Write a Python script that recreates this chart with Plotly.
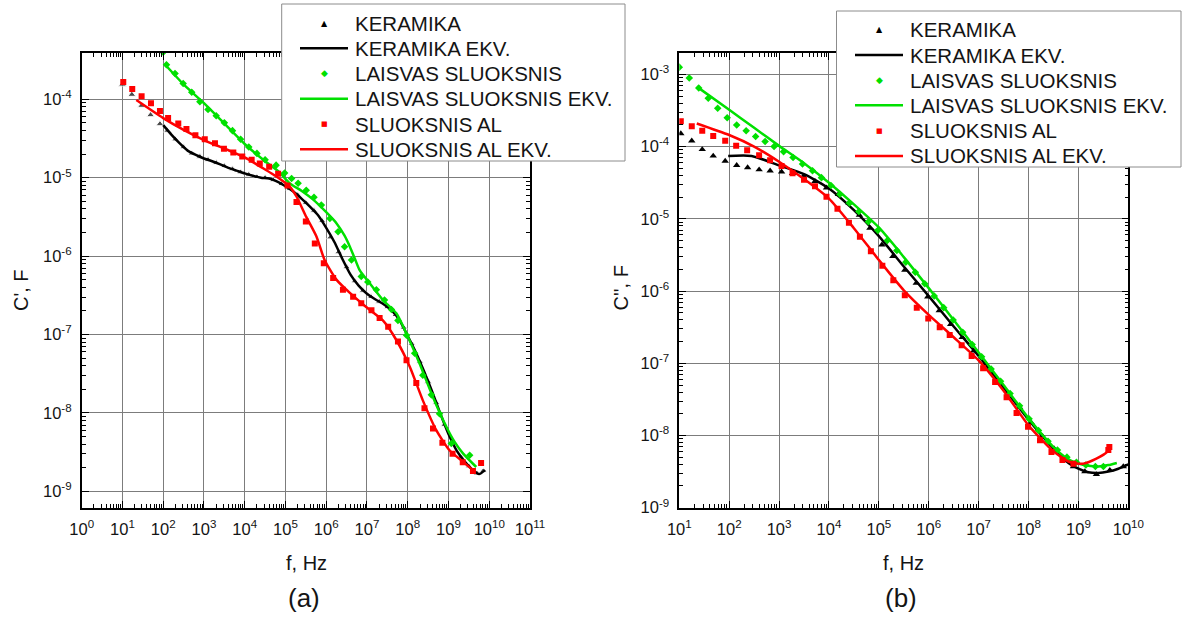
import numpy as np
import plotly.graph_objects as go

W, H = 1182, 617

# ---------------------------------------------------------------------------
# Data: values stored as decades, log10(f / Hz) and log10(C / F)
# ---------------------------------------------------------------------------
# (a) real part C'
a_ker_pts_lf = [1.0, 1.23, 1.47, 1.69, 1.92, 2.1, 2.3, 2.5, 2.7, 2.9, 3.1, 3.3, 3.5,
                3.7, 3.9, 4.1, 4.3, 4.5, 4.7, 4.9, 5.1, 5.3, 5.5, 5.7, 5.9, 6.1, 6.3,
                6.5, 6.7, 6.9, 7.1, 7.3, 7.5, 7.7, 7.9, 8.1, 8.3, 8.5, 8.7, 8.9, 9.1,
                9.3, 9.5, 9.7, 9.85]
a_ker_pts_lc = [-3.81, -3.94, -4.08, -4.20, -4.315, -4.40, -4.51, -4.61, -4.69, -4.73,
                -4.77, -4.81, -4.85, -4.89, -4.93, -4.96, -4.99, -5.00, -5.03, -5.08,
                -5.14, -5.22, -5.32, -5.42, -5.55, -5.76, -5.95, -6.14, -6.32, -6.44,
                -6.52, -6.58, -6.65, -6.75, -6.91, -7.12, -7.35, -7.60, -7.87, -8.15,
                -8.38, -8.56, -8.68, -8.77, -8.74]
a_ker_fit_lf = [2.0, 2.2, 2.4, 2.6, 2.8, 3.0, 3.2, 3.4, 3.6, 3.8, 4.0, 4.2, 4.4, 4.6,
                4.8, 5.0, 5.2, 5.4, 5.6, 5.8, 6.0, 6.2, 6.4, 6.6, 6.8, 7.0, 7.2, 7.4,
                7.6, 7.8, 8.0, 8.2, 8.4, 8.6, 8.8, 9.0, 9.2, 9.4, 9.6, 9.75, 9.9]
a_ker_fit_lc = [-4.33, -4.45, -4.56, -4.655, -4.71, -4.755, -4.79, -4.83, -4.875, -4.91,
                -4.945, -4.975, -5.00, -5.01, -5.05, -5.11, -5.18, -5.27, -5.37, -5.48,
                -5.64, -5.82, -6.04, -6.24, -6.38, -6.48, -6.55, -6.61, -6.69, -6.82,
                -7.02, -7.23, -7.47, -7.73, -8.01, -8.27, -8.48, -8.62, -8.73, -8.78,
                -8.73]

a_lai_pts_lf = [2.0, 2.08, 2.29, 2.49, 2.70, 2.90, 3.10, 3.30, 3.50, 3.70, 3.90, 4.10,
                4.30, 4.50, 4.77, 4.98, 5.15, 5.31, 5.51, 5.70, 5.88, 6.09, 6.29, 6.45,
                6.62, 6.86, 7.02, 7.23, 7.43, 7.60, 7.76, 7.97, 8.17, 8.37, 8.58, 8.78,
                9.07, 9.52]
a_lai_pts_lc = [-3.40, -3.56, -3.67, -3.80, -3.91, -4.03, -4.13, -4.21, -4.30, -4.40,
                -4.51, -4.61, -4.69, -4.77, -4.84, -4.94, -5.01, -5.07, -5.16, -5.25,
                -5.35, -5.52, -5.69, -5.88, -6.05, -6.26, -6.33, -6.43, -6.56, -6.68,
                -6.82, -7.01, -7.24, -7.52, -7.77, -8.01, -8.39, -8.54]
a_lai_fit_lf = [2.05, 2.5, 3.0, 3.5, 4.0, 4.5, 4.85, 5.10, 5.40, 5.68, 6.0, 6.25, 6.45,
                6.58, 6.70, 6.82, 7.07, 7.39, 7.72, 7.97, 8.29, 8.62, 8.95, 9.15, 9.36,
                9.68]
a_lai_fit_lc = [-3.56, -3.81, -4.05, -4.31, -4.57, -4.79, -4.93, -5.07, -5.17, -5.28,
                -5.44, -5.58, -5.74, -5.88, -6.03, -6.18, -6.35, -6.56, -6.73, -6.99,
                -7.37, -7.80, -8.18, -8.37, -8.52, -8.69]

a_al_pts_lf = [1.02, 1.24, 1.47, 1.70, 1.92, 2.12, 2.37, 2.57, 2.79, 3.02, 3.27, 3.49,
               3.72, 3.94, 4.17, 4.37, 4.60, 4.82, 5.05, 5.27, 5.50, 5.72, 5.94, 6.17,
               6.41, 6.66, 6.86, 7.11, 7.31, 7.52, 7.76, 7.97, 8.21, 8.41, 8.62, 8.85,
               9.10, 9.35, 9.60, 9.80]
a_al_pts_lc = [-3.78, -3.87, -3.96, -4.05, -4.15, -4.24, -4.31, -4.38, -4.46, -4.51,
               -4.56, -4.63, -4.68, -4.73, -4.77, -4.82, -4.86, -4.95, -5.10, -5.31,
               -5.56, -5.84, -6.09, -6.28, -6.43, -6.52, -6.60, -6.69, -6.79, -6.90,
               -7.09, -7.33, -7.62, -7.94, -8.20, -8.38, -8.52, -8.63, -8.74, -8.64]
a_al_fit_lf = [1.34, 2.0, 2.5, 3.0, 3.6, 4.0, 4.45, 4.7, 4.9, 5.1, 5.27, 5.51, 5.76,
               5.96, 6.25, 6.58, 6.98, 7.39, 7.72, 8.05, 8.37, 8.70, 9.03, 9.35, 9.60]
a_al_fit_lc = [-4.01, -4.24, -4.39, -4.52, -4.65, -4.74, -4.88, -4.96, -5.03, -5.11,
               -5.24, -5.50, -5.75, -6.05, -6.30, -6.47, -6.65, -6.82, -7.07, -7.41,
               -7.84, -8.22, -8.48, -8.62, -8.73]

# (b) imaginary part C''
b_ker_pts_lf = [1.03, 1.25, 1.46, 1.68, 1.92, 2.15, 2.37, 2.60, 2.82, 3.05, 3.27, 3.49,
                3.72, 3.95, 4.19, 4.40, 4.61, 4.82, 5.06, 5.28, 5.52, 5.75, 5.98, 6.21,
                6.44, 6.67, 6.90, 7.13, 7.36, 7.59, 7.82, 8.05, 8.28, 8.51, 8.74, 8.90,
                9.13, 9.36, 9.63, 9.90]
b_ker_pts_lc = [-3.82, -3.92, -4.04, -4.13, -4.20, -4.26, -4.29, -4.32, -4.335, -4.35,
                -4.37, -4.41, -4.48, -4.57, -4.66, -4.78, -4.95, -5.13, -5.36, -5.52,
                -5.71, -5.89, -6.08, -6.27, -6.46, -6.64, -6.83, -7.01, -7.21, -7.41,
                -7.61, -7.82, -8.01, -8.18, -8.34, -8.43, -8.50, -8.54, -8.48, -8.43]
b_ker_fit_lf = [1.98, 2.45, 3.0, 3.5, 4.0, 4.5, 5.0, 5.5, 6.0, 6.5, 7.0, 7.5, 8.0, 8.5,
                8.8, 9.0, 9.2, 9.4, 9.6, 9.8, 10.0]
b_ker_fit_lc = [-4.13, -4.13, -4.26, -4.38, -4.58, -4.88, -5.24, -5.66, -6.07, -6.49,
                -6.90, -7.34, -7.78, -8.18, -8.38, -8.46, -8.51, -8.52, -8.50, -8.46,
                -8.40]

b_lai_pts_lf = [1.0, 1.20, 1.39, 1.58, 1.77, 1.96, 2.15, 2.34, 2.53, 2.72, 2.90, 3.09,
                3.28, 3.47, 3.67, 3.85, 4.04, 4.22, 4.41, 4.60, 4.79, 4.98, 5.17, 5.36,
                5.54, 5.73, 5.92, 6.11, 6.30, 6.49, 6.68, 6.87, 7.06, 7.25, 7.44, 7.63,
                7.82, 8.01, 8.20, 8.39, 8.58, 8.77, 8.96, 9.15, 9.34, 9.50]
b_lai_pts_lc = [-2.90, -3.05, -3.19, -3.33, -3.47, -3.60, -3.70, -3.78, -3.86, -3.93,
                -4.00, -4.07, -4.15, -4.24, -4.335, -4.43, -4.54, -4.66, -4.78, -4.90,
                -5.04, -5.16, -5.30, -5.44, -5.60, -5.74, -5.90, -6.07, -6.23, -6.40,
                -6.57, -6.74, -6.91, -7.08, -7.25, -7.42, -7.59, -7.77, -7.93, -8.08,
                -8.20, -8.30, -8.37, -8.41, -8.43, -8.43]
b_lai_fit_lf = [1.35, 2.0, 2.5, 3.0, 3.5, 4.0, 4.5, 5.0, 5.5, 6.0, 6.5, 7.0, 7.5, 8.0,
                8.5, 8.8, 9.0, 9.2, 9.4, 9.6, 9.77]
b_lai_fit_lc = [-3.17, -3.49, -3.74, -3.99, -4.23, -4.50, -4.80, -5.12, -5.53, -5.96,
                -6.40, -6.85, -7.30, -7.76, -8.16, -8.33, -8.39, -8.42, -8.43, -8.41,
                -8.38]

b_al_pts_lf = [1.03, 1.25, 1.46, 1.68, 1.92, 2.14, 2.36, 2.60, 2.82, 3.05, 3.27, 3.50,
               3.72, 3.95, 4.17, 4.40, 4.62, 4.84, 5.07, 5.29, 5.52, 5.76, 5.99, 6.22,
               6.42, 6.66, 6.86, 7.09, 7.33, 7.56, 7.76, 7.99, 8.23, 8.46, 8.68, 8.90,
               9.60, 9.62]
b_al_pts_lc = [-3.65, -3.72, -3.78, -3.855, -3.92, -3.99, -4.05, -4.12, -4.19, -4.27,
               -4.37, -4.46, -4.55, -4.695, -4.86, -5.055, -5.25, -5.45, -5.65, -5.85,
               -6.06, -6.23, -6.38, -6.50, -6.61, -6.75, -6.90, -7.07, -7.26, -7.47,
               -7.69, -7.88, -8.065, -8.23, -8.34, -8.39, -8.20, -8.16]
b_al_fit_lf = [1.35, 2.0, 2.5, 3.0, 3.5, 4.0, 4.5, 5.0, 5.5, 6.0, 6.5, 7.0, 7.5, 8.0,
               8.5, 8.8, 9.0, 9.1, 9.36, 9.57, 9.62]
b_al_fit_lc = [-3.68, -3.84, -4.00, -4.21, -4.45, -4.72, -5.13, -5.57, -5.99, -6.33,
               -6.64, -6.96, -7.38, -7.86, -8.22, -8.36, -8.39, -8.39, -8.32, -8.23,
               -8.16]

series_names = ["KERAMIKA", "KERAMIKA EKV.", "LAISVAS SLUOKSNIS",
                "LAISVAS SLUOKSNIS EKV.", "SLUOKSNIS AL", "SLUOKSNIS AL EKV."]
x_decades_a = list(range(0, 12))
x_decades_b = list(range(1, 11))
y_decades_a = list(range(-9, -3))
y_decades_b = list(range(-9, -2))

# ---------------------------------------------------------------------------
BLACK, GREEN, RED = "#000000", "#00e000", "#ff0000"
FONT = "Liberation Sans, Arial, sans-serif"
TXT = "#141414"


def pw(v):
    return 10 ** np.asarray(v, dtype=float)


def fx(px):
    return px / W


def fy(py):
    return 1 - py / H


fig = go.Figure()


def add_panel(xa, ya, ker, lai, al, ker_sizes):
    (kpf, kpc, klf, klc) = ker
    (gpf, gpc, glf, glc) = lai
    (rpf, rpc, rlf, rlc) = al
    common = dict(xaxis=xa, yaxis=ya, showlegend=False)
    fig.add_trace(go.Scatter(x=pw(kpf), y=pw(kpc), mode="markers", name=series_names[0],
                             marker=dict(symbol="triangle-up", size=ker_sizes, color=BLACK),
                             **common))
    fig.add_trace(go.Scatter(x=pw(klf), y=pw(klc), mode="lines", name=series_names[1],
                             line=dict(color=BLACK, width=2.5, shape="spline", smoothing=0.6),
                             **common))
    fig.add_trace(go.Scatter(x=pw(gpf), y=pw(gpc), mode="markers", name=series_names[2],
                             marker=dict(symbol="diamond", size=5.8, color=GREEN), **common))
    fig.add_trace(go.Scatter(x=pw(glf), y=pw(glc), mode="lines", name=series_names[3],
                             line=dict(color=GREEN, width=2.5, shape="spline", smoothing=0.6),
                             **common))
    fig.add_trace(go.Scatter(x=pw(rpf), y=pw(rpc), mode="markers", name=series_names[4],
                             marker=dict(symbol="square", size=6, color=RED), **common))
    fig.add_trace(go.Scatter(x=pw(rlf), y=pw(rlc), mode="lines", name=series_names[5],
                             line=dict(color=RED, width=2.5, shape="spline", smoothing=0.6),
                             **common))


ker_sizes_a = [7] * 5 + [6.5] * (len(a_ker_pts_lf) - 5)
add_panel("x", "y",
          (a_ker_pts_lf, a_ker_pts_lc, a_ker_fit_lf, a_ker_fit_lc),
          (a_lai_pts_lf, a_lai_pts_lc, a_lai_fit_lf, a_lai_fit_lc),
          (a_al_pts_lf, a_al_pts_lc, a_al_fit_lf, a_al_fit_lc),
          ker_sizes_a)
add_panel("x2", "y2",
          (b_ker_pts_lf, b_ker_pts_lc, b_ker_fit_lf, b_ker_fit_lc),
          (b_lai_pts_lf, b_lai_pts_lc, b_lai_fit_lf, b_lai_fit_lc),
          (b_al_pts_lf, b_al_pts_lc, b_al_fit_lf, b_al_fit_lc),
          6.5)


def minor_vals(decades):
    vals = []
    for d in decades[:-1]:
        for m in range(2, 10):
            vals.append(m * 10.0 ** d)
    return vals


def log_axis(domain, rng, decades, anchor, xdir):
    return dict(
        type="log", domain=domain, range=rng, anchor=anchor,
        showline=True, linecolor="black", linewidth=1.6, mirror="ticks",
        ticks="inside", ticklen=7, tickwidth=1, tickcolor="black",
        tickmode="array", tickvals=[10.0 ** d for d in decades],
        ticktext=["10<sup>%d</sup>" % d for d in decades],
        tickfont=dict(family=FONT, size=16.5, color=TXT),
        ticklabelstandoff=6 if xdir else 5,
        showgrid=True, gridcolor="#7c7c7c", gridwidth=1,
        zeroline=False, automargin=False,
        minor=dict(ticks="inside", ticklen=4, tickwidth=1, tickcolor="black",
                   tickmode="array", tickvals=minor_vals(decades), showgrid=False),
    )


dom_y = [fy(507.7), fy(52.7)]
fig.update_layout(
    xaxis=log_axis([fx(81.7), fx(530)], [0, 11], x_decades_a, "y", True),
    yaxis=log_axis(dom_y, [-9.209, -3.406], y_decades_a, "x", False),
    xaxis2=log_axis([fx(679.3), fx(1128.3)], [1, 10], x_decades_b, "y2", True),
    yaxis2=log_axis(dom_y, [-9.0, -2.70], y_decades_b, "x2", False),
)

annotations = []
shapes = []

# axis titles and panel captions
for cx, ty, label, cap in [(306, 21, "C', F", "(a)"), (903, 620, "C'', F", "(b)")]:
    annotations.append(dict(x=fx(cx), y=fy(563), xref="paper", yref="paper", text="f, Hz",
                            showarrow=False, xanchor="center", yanchor="middle",
                            font=dict(family=FONT, size=20, color=TXT)))
    annotations.append(dict(x=fx(ty), y=fy(313), xref="paper", yref="paper", text=label,
                            showarrow=False, textangle=-90, xanchor="center",
                            yanchor="bottom", font=dict(family=FONT, size=20, color=TXT)))
    annotations.append(dict(x=fx(cx - 2), y=fy(597.5), xref="paper", yref="paper", text=cap,
                            showarrow=False, xanchor="center", yanchor="middle",
                            font=dict(family=FONT, size=26, color=TXT)))

# legend boxes drawn over the plot areas
legends = [
    dict(box=(281.7, 4, 625, 161), rows=[23.3, 48.3, 73.3, 98.7, 124, 149.3],
         sym=(300, 348), txt=353),
    dict(box=(836.5, 11, 1181, 167), rows=[29.3, 55, 80, 105.3, 130.7, 156],
         sym=(855, 903), txt=908),
]
glyphs = [("▲", BLACK, 8), None, ("◆", GREEN, 9), None, ("■", RED, 7), None]
line_cols = [None, BLACK, None, GREEN, None, RED]
for lg in legends:
    x0, y0, x1, y1 = lg["box"]
    shapes.append(dict(type="rect", xref="paper", yref="paper", layer="above",
                       x0=fx(x0), x1=fx(x1), y0=fy(y1), y1=fy(y0),
                       fillcolor="white", line=dict(color="#8c8c8c", width=1)))
    s0, s1 = lg["sym"]
    for i, ry in enumerate(lg["rows"]):
        if line_cols[i]:
            shapes.append(dict(type="line", xref="paper", yref="paper", layer="above",
                               x0=fx(s0), x1=fx(s1), y0=fy(ry), y1=fy(ry),
                               line=dict(color=line_cols[i], width=2.6)))
        else:
            g, col, sz = glyphs[i]
            annotations.append(dict(x=fx((s0 + s1) / 2), y=fy(ry), xref="paper",
                                    yref="paper", text=g, showarrow=False,
                                    xanchor="center", yanchor="middle",
                                    font=dict(family="DejaVu Sans", size=sz, color=col)))
        annotations.append(dict(x=fx(lg["txt"]), y=fy(ry), xref="paper", yref="paper",
                                text=series_names[i], showarrow=False, xanchor="left",
                                yanchor="middle",
                                font=dict(family=FONT, size=20.5, color=TXT)))

fig.update_layout(
    width=W, height=H, autosize=False,
    margin=dict(l=0, r=0, t=0, b=0, pad=0),
    paper_bgcolor="white", plot_bgcolor="white",
    showlegend=False,
    annotations=annotations, shapes=shapes,
)

fig.write_html("out.html")
